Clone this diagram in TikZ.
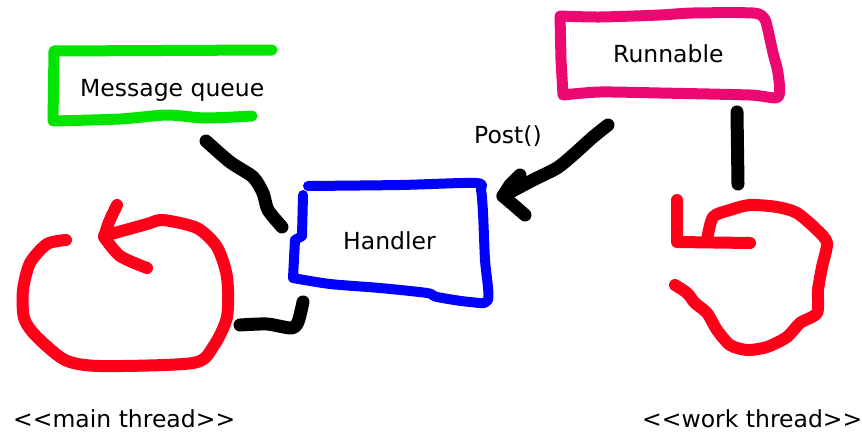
\documentclass[tikz,border=0pt]{standalone}
\usepackage{fontspec}
\setmainfont{DejaVu Sans}
\definecolor{mqgreen}{RGB}{0,228,0}
\definecolor{runpink}{RGB}{236,8,112}
\definecolor{looped}{RGB}{255,0,24}
\definecolor{handblue}{RGB}{0,0,255}
\begin{document}
\begin{tikzpicture}[x=1pt,y=-1pt,
  pen/.style={line width=#1, line cap=round, line join=round},
  pen/.default=11pt,
  label/.style={anchor=base west, inner sep=0pt, font=\fontsize{23.5}{28}\selectfont},
  link/.style={pen=13pt, black},
  wobble/.style={smooth, tension=0.45}]
\useasboundingbox (0,0) rectangle (862,433);

% ---- labels ----
\node[label] (mq) at (80,97) {Message queue};
\node[label] (handler) at (343,249) {Handler};
\node[label] (runnable) at (613,63) {Runnable};
\node[label] (post) at (474,143) {Post()};
\node[label] (mainlbl) at (13,427) {<\kern0pt<main thread>\kern0pt>};
\node[label] (worklbl) at (642,427) {<\kern0pt<work thread>\kern0pt>};

% ---- message queue bracket ----
\draw[pen=11pt, mqgreen] (272,50) -- (54,51) -- (53,121)
  plot[wobble] coordinates {(53,121) (120,119) (167,115) (205,118) (252,116)};

% ---- handler box ----
\draw[pen=10pt, handblue] plot[wobble] coordinates {
  (308,186) (400,185) (476,183) (481,190) (483,213) (485,260) (488,300)
  (470,302) (437,297) (427,293) (380,288) (330,284) (293,278)};
\draw[pen=10pt, handblue] (293,278) -- (295,240) -- (302,236) -- (303,195);

% ---- runnable box ----
\draw[pen=11pt, runpink] plot[wobble] coordinates {
  (560,16) (600,17) (660,15) (693,13) (753,13) (764,18) (767,26)
  (773,53) (778,73) (778,97) (750,95) (660,93) (600,92) (563,95)}
  -- (561,60) -- (560,16);

% ---- main thread loop ----
\draw[pen=12pt, looped] plot[wobble] coordinates {
  (66,240) (47,244) (30,263) (23,290) (24,318) (36,336) (65,360)
  (100,366) (193,363) (213,347) (227,317) (227,277) (217,247)
  (197,228) (163,220) (147,224) (104,236)};
\draw[pen=12pt, looped] plot[wobble] coordinates {(117,205) (109,222) (104,237)}
  plot[wobble] coordinates {(104,237) (120,256) (147,268)};

% ---- work thread loop ----
\draw[pen=12pt, looped] (677,200) -- (677,242) -- (750,243);
\draw[pen=12pt, looped] plot[wobble] coordinates {
  (707,240) (713,217) (730,210) (750,205) (777,207) (797,213) (817,230)
  (827,243) (822,267) (818,290) (817,313) (800,323) (787,337) (767,347)
  (747,350) (730,345) (717,330) (707,313) (695,303) (687,293) (675,285)};

% ---- connectors ----
\coordinate (mqend) at (206,141);
\coordinate (hdin) at (282,227);
\draw[link] plot[wobble] coordinates {(mqend) (230,162) (253,177) (263,193) (268,210) (hdin)};

\coordinate (hdout) at (303,302);
\coordinate (loopin) at (240,325);
\draw[link] plot[wobble] coordinates {(hdout) (298,322) (291,328) (267,324) (loopin)};

\coordinate (postfrom) at (608,125);
\coordinate (posttip) at (503,196);
\draw[link] plot[wobble] coordinates {(postfrom) (593,137) (573,155) (557,168) (533,180) (posttip)};
\draw[link] (520,175) -- (510,185) -- (posttip) -- (517,208) -- (525,215);

\coordinate (runout) at (737,112);
\coordinate (workin) at (738,184);
\draw[link] (runout) -- (workin);
\end{tikzpicture}
\end{document}
